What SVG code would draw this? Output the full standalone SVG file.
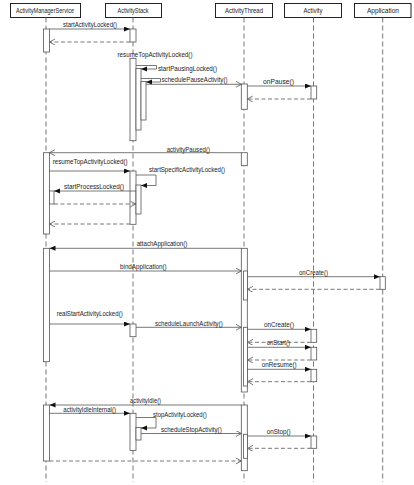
<svg xmlns="http://www.w3.org/2000/svg" width="414" height="485" viewBox="0 0 414 485">
<style>
text{font-family:"Liberation Sans",Arial,sans-serif;font-size:7px;fill:#222}
.hd{fill:#fff;stroke:#222;stroke-width:1}
.ll{stroke:#555;stroke-width:0.8;stroke-dasharray:5,3;fill:none}
.act{fill:#fff;stroke:#555;stroke-width:0.8}
.m{stroke:#555;stroke-width:0.8;fill:none}
.sync{marker-end:url(#fa)}
.async{marker-end:url(#oa)}
.ret{stroke-dasharray:4,2.5;marker-end:url(#oa)}
</style>
<defs>
<marker id="fa" markerUnits="userSpaceOnUse" markerWidth="7" markerHeight="6" refX="6" refY="2.5" orient="auto"><path d="M0,0 L6,2.5 L0,5 z" fill="#111"/></marker>
<marker id="oa" markerUnits="userSpaceOnUse" markerWidth="7" markerHeight="8" refX="5.5" refY="3" orient="auto"><path d="M0,0 L5.5,3 L0,6" fill="none" stroke="#555" stroke-width="0.8"/></marker>
</defs>
<rect width="414" height="485" fill="#fff"/>

<g id="ActivityManagerService">
<rect class="hd" x="10.5" y="3.5" width="70" height="14"/>
<text x="45" y="12.8" text-anchor="middle" textLength="58" lengthAdjust="spacingAndGlyphs">ActivityManagerService</text>
<line class="ll" x1="46" y1="17.5" x2="46" y2="482"/>
<rect class="act" x="43.5" y="29" width="6" height="23"/>
<rect class="act" x="43.5" y="152.7" width="6" height="81.3"/>
<rect class="act" x="49.5" y="191" width="4.5" height="13"/>
<rect class="act" x="43.5" y="248.3" width="6" height="113.4"/>
<rect class="act" x="43.5" y="405" width="6" height="56"/>
</g>

<g id="ActivityStack">
<rect class="hd" x="105.5" y="3.5" width="56" height="14"/>
<text x="133" y="12.8" text-anchor="middle" textLength="31" lengthAdjust="spacingAndGlyphs">ActivityStack</text>
<line class="ll" x1="133" y1="17.5" x2="133" y2="482"/>
<rect class="act" x="130" y="29" width="6" height="13"/>
<rect class="act" x="130" y="58.3" width="6" height="82.4"/>
<rect class="act" x="136" y="68.5" width="5" height="61.5"/>
<rect class="act" x="141" y="81.5" width="5" height="38.5"/>
<rect class="act" x="130" y="171" width="6" height="53.3"/>
<rect class="act" x="136" y="185" width="5" height="29"/>
<rect class="act" x="130" y="324" width="6" height="12.7"/>
<rect class="act" x="130" y="413.3" width="6" height="37.2"/>
<rect class="act" x="136" y="427.5" width="5" height="12.5"/>
</g>

<g id="ActivityThread">
<rect class="hd" x="215.5" y="3.5" width="57" height="14"/>
<text x="244" y="12.8" text-anchor="middle" textLength="38" lengthAdjust="spacingAndGlyphs">ActivityThread</text>
<line class="ll" x1="244" y1="17.5" x2="244" y2="482"/>
<rect class="act" x="241.3" y="84" width="6" height="25.3"/>
<rect class="act" x="241.3" y="152.7" width="6" height="13"/>
<rect class="act" x="241.3" y="248.3" width="6" height="143.7"/>
<rect class="act" x="243.5" y="271" width="4" height="29"/>
<rect class="act" x="243.5" y="327.3" width="4" height="58.7"/>
<rect class="act" x="241.3" y="405" width="6" height="65.7"/>
<rect class="act" x="243.5" y="434.3" width="4" height="24"/>
</g>

<g id="Activity">
<rect class="hd" x="284.5" y="3.5" width="57" height="14"/>
<text x="313" y="12.8" text-anchor="middle" textLength="19" lengthAdjust="spacingAndGlyphs">Activity</text>
<line class="ll" x1="313.5" y1="17.5" x2="313.5" y2="482"/>
<rect class="act" x="311" y="86" width="5.7" height="13"/>
<rect class="act" x="311" y="329.3" width="5.7" height="13"/>
<rect class="act" x="311" y="347.3" width="5.7" height="12.7"/>
<rect class="act" x="311" y="369.3" width="5.7" height="12.4"/>
<rect class="act" x="311" y="436" width="5.7" height="12.3"/>
</g>

<g id="Application">
<rect class="hd" x="354.5" y="3.5" width="56.5" height="14"/>
<text x="383" y="12.8" text-anchor="middle" textLength="32" lengthAdjust="spacingAndGlyphs">Application</text>
<line class="ll" x1="382.7" y1="17.5" x2="382.7" y2="482"/>
<rect class="act" x="380" y="276.7" width="5.3" height="12.6"/>
</g>

<g id="connectors">
<line class="m sync" x1="49.5" y1="29" x2="130" y2="29"/>
<line class="m ret" x1="130" y1="42" x2="49.5" y2="42"/>
<polyline class="m sync" points="136,65.5 156.5,65.5 156.5,69 141,69"/>
<polyline class="m sync" points="141,78.5 160.5,78.5 160.5,82 146,82"/>
<line class="m async" x1="146" y1="84.3" x2="241.3" y2="84.3"/>
<line class="m sync" x1="247.3" y1="86" x2="311" y2="86"/>
<line class="m ret" x1="311" y1="99" x2="247.3" y2="99"/>
<line class="m async" x1="241.3" y1="152.7" x2="49.5" y2="152.7"/>
<line class="m sync" x1="49.5" y1="171" x2="130" y2="171"/>
<polyline class="m sync" points="136,175 156,175 156,185.5 141,185.5"/>
<line class="m sync" x1="136" y1="191" x2="54" y2="191"/>
<line class="m ret" x1="54" y1="204" x2="135.7" y2="204"/>
<line class="m ret" x1="130" y1="224" x2="49.5" y2="224"/>
<line class="m sync" x1="241.3" y1="248.3" x2="49.5" y2="248.3"/>
<line class="m async" x1="49.5" y1="271" x2="241.3" y2="271"/>
<line class="m sync" x1="247.5" y1="276.7" x2="380" y2="276.7"/>
<line class="m ret" x1="380" y1="289.3" x2="247.5" y2="289.3"/>
<line class="m sync" x1="49.5" y1="324" x2="130" y2="324"/>
<line class="m async" x1="136" y1="327.3" x2="241.3" y2="327.3"/>
<line class="m sync" x1="247.5" y1="329.3" x2="311" y2="329.3"/>
<line class="m ret" x1="311" y1="342.3" x2="247.5" y2="342.3"/>
<line class="m sync" x1="247.5" y1="347.3" x2="311" y2="347.3"/>
<line class="m ret" x1="311" y1="360" x2="247.5" y2="360"/>
<line class="m sync" x1="247.5" y1="369.3" x2="311" y2="369.3"/>
<line class="m ret" x1="311" y1="381.7" x2="247.5" y2="381.7"/>
<line class="m sync" x1="241.3" y1="405" x2="49.5" y2="405"/>
<line class="m sync" x1="49.5" y1="413.3" x2="130" y2="413.3"/>
<polyline class="m sync" points="136,417.5 156,417.5 156,428 141,428"/>
<line class="m async" x1="141" y1="433.5" x2="241.3" y2="433.5"/>
<line class="m sync" x1="247.5" y1="436" x2="311" y2="436"/>
<line class="m ret" x1="311" y1="448.3" x2="247.5" y2="448.3"/>
<line class="m ret" x1="49.5" y1="461" x2="241.3" y2="461"/>

<text x="63" y="27.3" textLength="54" lengthAdjust="spacingAndGlyphs">startActivityLocked()</text>
<text x="117.5" y="56.5" textLength="75" lengthAdjust="spacingAndGlyphs">resumeTopActivityLocked()</text>
<text x="158" y="71.3" textLength="59" lengthAdjust="spacingAndGlyphs">startPausingLocked()</text>
<text x="161.5" y="82.2" textLength="66" lengthAdjust="spacingAndGlyphs">schedulePauseActivity()</text>
<text x="263" y="84" textLength="31" lengthAdjust="spacingAndGlyphs">onPause()</text>
<text x="166.7" y="151.6" textLength="43.3" lengthAdjust="spacingAndGlyphs">activityPaused()</text>
<text x="52.7" y="164.2" textLength="75" lengthAdjust="spacingAndGlyphs">resumeTopActivityLocked()</text>
<text x="149" y="171.6" textLength="76" lengthAdjust="spacingAndGlyphs">startSpecificActivityLocked()</text>
<text x="64" y="189.3" textLength="60" lengthAdjust="spacingAndGlyphs">startProcessLocked()</text>
<text x="136.7" y="246.3" textLength="50.6" lengthAdjust="spacingAndGlyphs">attachApplication()</text>
<text x="120" y="269" textLength="46.7" lengthAdjust="spacingAndGlyphs">bindApplication()</text>
<text x="299" y="275" textLength="29" lengthAdjust="spacingAndGlyphs">onCreate()</text>
<text x="56.7" y="315.6" textLength="66" lengthAdjust="spacingAndGlyphs">realStartActivityLocked()</text>
<text x="155" y="325.6" textLength="67.7" lengthAdjust="spacingAndGlyphs">scheduleLaunchActivity()</text>
<text x="264" y="327.3" textLength="30" lengthAdjust="spacingAndGlyphs">onCreate()</text>
<text x="266.7" y="345" textLength="23.3" lengthAdjust="spacingAndGlyphs">onStart()</text>
<text x="261.7" y="367.3" textLength="35" lengthAdjust="spacingAndGlyphs">onResume()</text>
<text x="130" y="403.3" textLength="31" lengthAdjust="spacingAndGlyphs">activityIdle()</text>
<text x="63.3" y="412.3" textLength="52.7" lengthAdjust="spacingAndGlyphs">activityIdleInternal()</text>
<text x="153" y="416.6" textLength="53.7" lengthAdjust="spacingAndGlyphs">stopActivityLocked()</text>
<text x="161" y="432.3" textLength="60.7" lengthAdjust="spacingAndGlyphs">scheduleStopActivity()</text>
<text x="266.7" y="434" textLength="24" lengthAdjust="spacingAndGlyphs">onStop()</text>
</g>
</svg>
